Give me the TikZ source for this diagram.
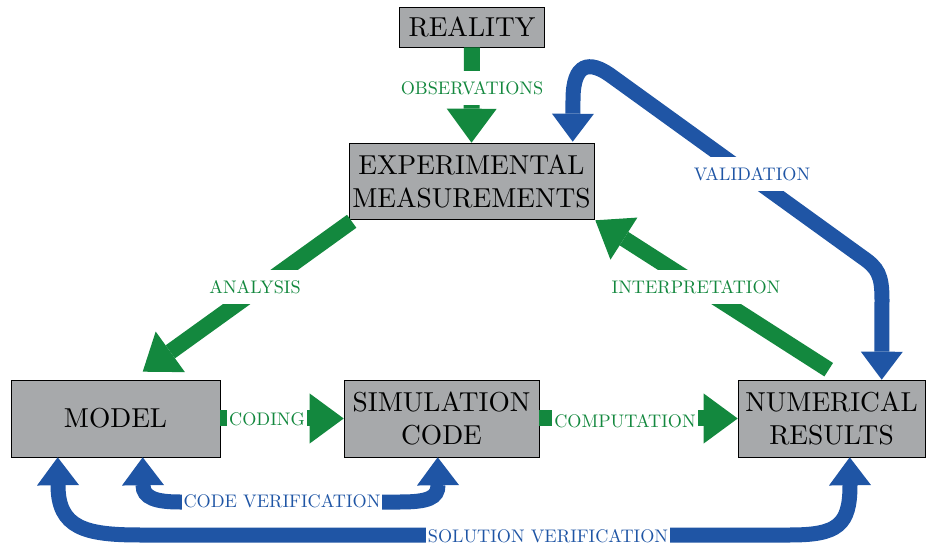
\documentclass[tikz,border=0pt]{standalone}
\usepackage{fontspec}
\setmainfont{lmroman10-regular.otf}
\usetikzlibrary{arrows.meta,calc}
\definecolor{boxgray}{HTML}{A7A9AB}
\definecolor{grn}{HTML}{13883E}
\definecolor{blu}{HTML}{1F55A5}
\begin{document}
\begin{tikzpicture}[x=1pt,y=-1pt,
  box/.style={draw=black, line width=0.6pt, fill=boxgray, inner sep=0pt, align=center,
    font=\fontsize{27.4}{33}\selectfont},
  garrow/.style={draw=grn, line width=16pt, -{Triangle[length=34pt,width=50pt,line width=0pt]}},
  barrow/.style={draw=blu, line width=15pt,
    {Triangle[length=28pt,width=42pt,line width=0pt]}-{Triangle[length=28pt,width=42pt,line width=0pt]}},
  lab/.style={fill=white, inner xsep=2pt, inner ysep=10pt, font=\fontsize{18.2}{20}\selectfont},
  glab/.style={lab, text=grn},
  blab/.style={lab, text=blu}]
\useasboundingbox (0,0) rectangle (927,545);

\node[box, minimum width=145pt, minimum height=40pt] (reality) at (472,27) {REALITY};
\node[box, minimum width=245pt, minimum height=76pt] (exp) at (471.5,181) {EXPERIMENTAL\\MEASUREMENTS};
\node[box, minimum width=209pt, minimum height=77pt] (model) at (115.5,418.5) {MODEL};
\node[box, minimum width=195pt, minimum height=77pt] (sim) at (441.5,418.5) {SIMULATION\\CODE};
\node[box, minimum width=187pt, minimum height=77pt] (num) at (831.5,418.5) {NUMERICAL\\RESULTS};

% green arrows
\draw[garrow] (reality.south) -- (exp.north);
\draw[garrow] ($(exp.south west)+(3,2)$) -- ($(model.north west)+(132,-8)$);
\draw[garrow] ($(num.north west)+(91,-10)$) -- ($(exp.south east)+(1,1)$);
\draw[garrow] (model.east) -- (sim.west);
\draw[garrow] (sim.east) -- (num.west);

% blue arrows
\draw[barrow] ($(exp.north west)+(224,-1)$) -- (573,100)
  .. controls (573,62) and (590,61) .. (610,75) -- (862,257)
  .. controls (878,268) and (882,275) .. (882,300) -- ($(num.north west)+(144,0)$);
\draw[barrow] ($(model.south west)+(132,0)$) -- (143,485)
  .. controls (143,498) and (156,502) .. (180,502) -- (400,502)
  .. controls (428,502) and (438,498) .. (438,485) -- ($(sim.south west)+(94,0)$);
\draw[barrow] ($(model.south west)+(47,0)$) -- (58,485)
  .. controls (58,528) and (85,535) .. (140,535) -- (790,535)
  .. controls (838,535) and (850,525) .. (850,485) -- ($(num.south west)+(112,0)$);

% labels
\node[glab] (lobs) at (472,88) {OBSERVATIONS};
\node[glab] (lana) at (255,287) {ANALYSIS};
\node[glab] (lint) at (696,287) {INTERPRETATION};
\node[glab] (lcod) at (267,419) {CODING};
\node[glab] (lcom) at (625,421) {COMPUTATION};
\node[blab] (lval) at (752,174) {VALIDATION};
\node[blab] (lcv) at (282,501) {CODE VERIFICATION};
\node[blab] (lsv) at (548,536) {SOLUTION VERIFICATION};
\end{tikzpicture}
\end{document}
